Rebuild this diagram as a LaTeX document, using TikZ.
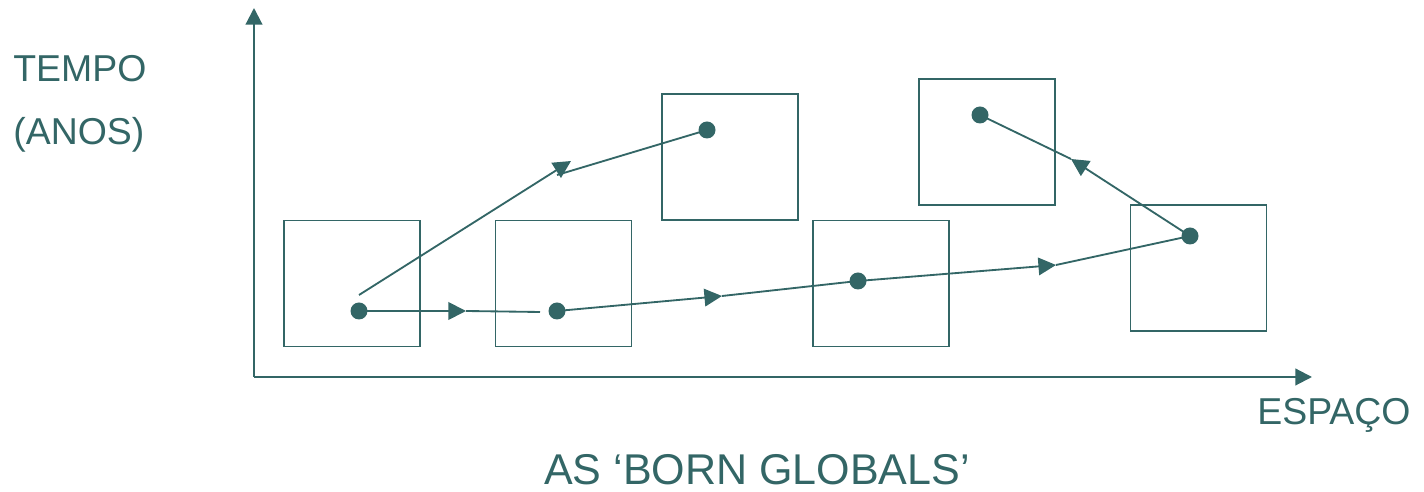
\documentclass[tikz,border=0pt]{standalone}
\usepackage{fontspec}
\setmainfont{Liberation Sans}
\usetikzlibrary{arrows.meta}
\definecolor{teal1}{RGB}{51,102,102}
\begin{document}
\begin{tikzpicture}[x=0.02cm,y=-0.02cm,
  axis/.style={draw=teal1,line width=1.2pt,-{Triangle[length=9.5pt,width=9.5pt]}},
  boxnode/.style={draw=teal1,line width=1pt,rectangle,minimum width=136*0.02cm,minimum height=126*0.02cm,inner sep=0pt},
  dotnode/.style={circle,fill=teal1,inner sep=0pt,minimum size=0.34cm},
  link/.style={draw=teal1,line width=1.05pt},
  arr/.style={link,-{Triangle[length=10pt,width=10pt]}},
  lbl/.style={text=teal1,inner sep=0pt,font=\fontsize{21.3}{25}\selectfont}]
\useasboundingbox (0,0) rectangle (1424,492);
% axes
\coordinate (o) at (254,377);
\coordinate (ytop) at (254,8);
\coordinate (xend) at (1312,377);
\draw[axis] (o) -- (ytop);
\draw[axis] (o) -- (xend);
% boxes
\node[boxnode] (b1) at (352,283.5) {};
\node[boxnode] (b2) at (563.5,283.5) {};
\node[boxnode] (b3) at (730,157) {};
\node[boxnode] (b4) at (881,283.5) {};
\node[boxnode] (b5) at (987,142) {};
\node[boxnode] (b6) at (1198.5,268) {};
% dots
\node[dotnode] (d1) at (359,311) {};
\node[dotnode] (d2) at (557,311) {};
\node[dotnode] (d3) at (707,130) {};
\node[dotnode] (d4) at (858,281) {};
\node[dotnode] (d5) at (980,115) {};
\node[dotnode] (d6) at (1190,236) {};
% path A
\coordinate (a1) at (466,311);
\coordinate (a1e) at (540,312);
\draw[arr] (d1.center) -- (a1);
\draw[link] (a1) -- (a1e);
\coordinate (a2) at (722,296);
\draw[arr] (d2.center) -- (a2);
\draw[link] (a2) -- (d4.center);
\coordinate (a3) at (1056,265);
\draw[arr] (d4.center) -- (a3);
\draw[link] (a3) -- (d6.center);
% path B
\coordinate (bs) at (359,295);
\coordinate (b1t) at (571,161);
\coordinate (b2s) at (557,175);
\draw[arr] (bs) -- (b1t);
\draw[link] (b2s) -- (d3.center);
% path C
\coordinate (c1) at (1071,159);
\draw[arr] (d6.center) -- (c1);
\draw[link] (c1) -- (d5.center);
% labels
\node[lbl,anchor=base west] (t1) at (13,82) {TEMPO};
\node[lbl,anchor=base west] (t2) at (13,145) {(ANOS)};
\node[lbl,anchor=base west] (t3) at (1257,425) {ESPAÇO};
\node[lbl,anchor=base,font=\fontsize{24.5}{29}\selectfont] (t4) at (757,485) {AS ‘BORN GLOBALS’};
\end{tikzpicture}
\end{document}
